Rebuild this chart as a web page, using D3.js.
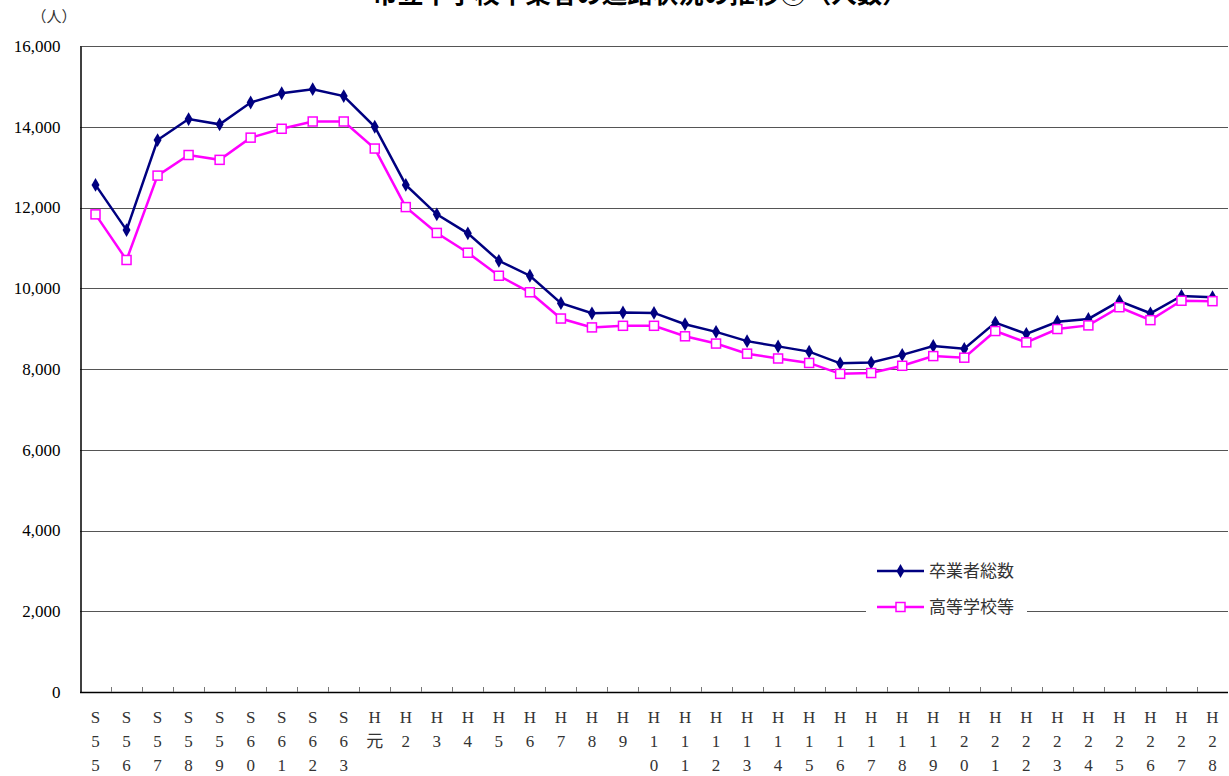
<!DOCTYPE html>
<html><head><meta charset="utf-8">
<script src="https://cdn.jsdelivr.net/npm/d3@7"></script>
<style>
html,body{margin:0;padding:0;background:#fff;}
svg{display:block;}
</style></head>
<body>
<script>
const categories = [
 ["S","5","5"],["S","5","6"],["S","5","7"],["S","5","8"],["S","5","9"],["S","6","0"],["S","6","1"],["S","6","2"],["S","6","3"],
 ["H","元"],["H","2"],["H","3"],["H","4"],["H","5"],["H","6"],["H","7"],["H","8"],["H","9"],
 ["H","1","0"],["H","1","1"],["H","1","2"],["H","1","3"],["H","1","4"],["H","1","5"],["H","1","6"],["H","1","7"],["H","1","8"],["H","1","9"],
 ["H","2","0"],["H","2","1"],["H","2","2"],["H","2","3"],["H","2","4"],["H","2","5"],["H","2","6"],["H","2","7"],["H","2","8"]
];
const totalGraduates = [12560,11440,13670,14190,14060,14600,14830,14930,14760,14000,12560,11830,11360,10680,10310,9630,9380,9400,9390,9110,8920,8690,8560,8430,8140,8160,8350,8570,8500,9150,8870,9170,9240,9680,9380,9810,9780];
const highSchool = [11830,10700,12790,13300,13180,13730,13950,14130,14130,13460,12010,11370,10880,10310,9900,9250,9030,9070,9070,8810,8630,8380,8260,8150,7880,7900,8080,8320,8280,8940,8660,8990,9080,9530,9210,9690,9680];
const yTicks = [0,2000,4000,6000,8000,10000,12000,14000,16000];
const seriesNames = ["卒業者総数","高等学校等"];
const title = "市立中学校卒業者の進路状況の推移①（人数）";
const yUnit = "（人）";

const W = 1229, H = 776;
const mLeft = 80, mRight = 1228, mTop = 46, mBottom = 692;
const svg = d3.select("body").append("svg").attr("width", W).attr("height", H);

const x = d3.scaleBand().domain(d3.range(categories.length)).range([mLeft, mRight]).padding(0);
const y = d3.scaleLinear().domain([0,16000]).range([mBottom, mTop]);
const serif = "'Liberation Serif','DejaVu Serif','Noto Sans CJK JP',serif";
const sans = "'Noto Sans CJK JP','Noto Sans',sans-serif";

// title (clipped at top, as in the source)
svg.append("text").attr("x", 640).attr("y", 3).attr("text-anchor","middle")
  .attr("font-family", sans).attr("font-weight","bold").attr("font-size",25.5).attr("fill","#000").text(title);

// unit
svg.append("text").attr("x", 54).attr("y", 22).attr("text-anchor","middle")
  .attr("font-family", sans).attr("font-size",15).attr("fill","#333").text(yUnit);

// gridlines
svg.append("g").selectAll("line").data(yTicks.filter(d=>d>0)).join("line")
  .attr("x1", mLeft).attr("x2", mRight).attr("y1", d=>Math.round(y(d))+0.5).attr("y2", d=>Math.round(y(d))+0.5)
  .attr("stroke","#555").attr("stroke-width",1.2);

// y axis
const yAxis = d3.axisLeft(y).tickValues(yTicks).tickSize(0).tickPadding(20).tickFormat(d3.format(","));
const gy = svg.append("g").attr("transform",`translate(${mLeft+0.5},0)`).call(yAxis);
gy.select(".domain").attr("stroke","#000").attr("stroke-width",1.5);
gy.selectAll("text").attr("font-family", serif).attr("font-size",17).attr("fill","#000");

// x axis line and inner ticks
const gx = svg.append("g");
gx.append("line").attr("x1",mLeft).attr("x2",mRight).attr("y1",mBottom+0.5).attr("y2",mBottom+0.5).attr("stroke","#000").attr("stroke-width",1.5);
gx.selectAll("line.tk").data(d3.range(1, categories.length)).join("line").attr("class","tk")
  .attr("x1", d=>Math.round(x(d))+0.5).attr("x2", d=>Math.round(x(d))+0.5)
  .attr("y1", mBottom).attr("y2", mBottom-5).attr("stroke","#777").attr("stroke-width",1);

// x labels (stacked)
const lab = svg.append("g").selectAll("text").data(categories).join("text")
  .attr("x",(d,i)=>x(i)+x.bandwidth()/2).attr("y",723).attr("text-anchor","middle")
  .attr("font-family", serif).attr("font-size",17).attr("fill","#333");
lab.selectAll("tspan").data(d=>d).join("tspan")
  .attr("x", function(){ return d3.select(this.parentNode).attr("x"); })
  .attr("dy",(d,i)=>i===0?0:24).text(d=>d);

const cx = i => x(i)+x.bandwidth()/2;
const line = d3.line().x((d,i)=>cx(i)).y(d=>y(d));

// series 1
svg.append("path").datum(totalGraduates).attr("d",line).attr("fill","none").attr("stroke","#000080").attr("stroke-width",2.5);
const diamond = d3.symbol().type(d3.symbolDiamond).size(55);
svg.append("g").selectAll("path").data(totalGraduates).join("path")
  .attr("d",diamond).attr("transform",(d,i)=>`translate(${cx(i)},${y(d)})`).attr("fill","#000080");

// series 2
svg.append("path").datum(highSchool).attr("d",line).attr("fill","none").attr("stroke","#ff00ff").attr("stroke-width",2.5);
svg.append("g").selectAll("rect").data(highSchool).join("rect")
  .attr("x",(d,i)=>cx(i)-4.5).attr("y",d=>y(d)-4.5).attr("width",9).attr("height",9)
  .attr("fill","#fff").attr("stroke","#ff00ff").attr("stroke-width",1.5);

// legend
const lg = svg.append("g");
lg.append("rect").attr("x",866).attr("y",552).attr("width",161).attr("height",70).attr("fill","#fff");
const lx1 = 877, lx2 = 924, lmx = 900.5;
const ly = [571, 607];
lg.append("line").attr("x1",lx1).attr("x2",lx2).attr("y1",ly[0]).attr("y2",ly[0]).attr("stroke","#000080").attr("stroke-width",2.5);
lg.append("path").attr("d",diamond).attr("transform",`translate(${lmx},${ly[0]})`).attr("fill","#000080");
lg.append("line").attr("x1",lx1).attr("x2",lx2).attr("y1",ly[1]).attr("y2",ly[1]).attr("stroke","#ff00ff").attr("stroke-width",2.5);
lg.append("rect").attr("x",lmx-4.5).attr("y",ly[1]-4.5).attr("width",9).attr("height",9).attr("fill","#fff").attr("stroke","#ff00ff").attr("stroke-width",1.5);
lg.selectAll("text.l").data(seriesNames).join("text").attr("class","l")
  .attr("x",929).attr("y",(d,i)=>ly[i]+6).attr("font-family",sans).attr("font-size",17).attr("fill","#333").text(d=>d);
</script>
</body></html>
